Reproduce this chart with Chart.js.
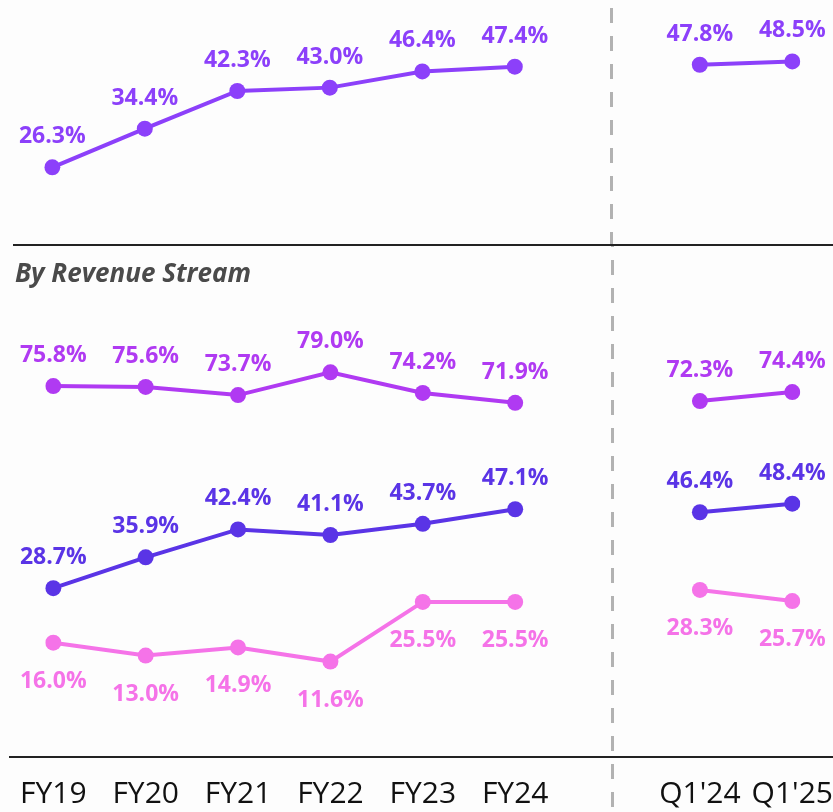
<!DOCTYPE html>
<html>
<head>
<meta charset="utf-8">
<script src="https://cdn.jsdelivr.net/npm/chart.js@4.4.0/dist/chart.umd.min.js"></script>
<style>
    html, body { margin: 0; padding: 0; background: #fdfdfd; overflow: hidden; }
    #wrap { position: relative; width: 833px; height: 812px; overflow: hidden; }
    #topChart { position: absolute; left: 0; top: 0; }
    #streamChart { position: absolute; left: 0; top: 244px; }
</style>
</head>
<body>
<div id="wrap">
    <canvas id="topChart" width="880" height="244"></canvas>
    <canvas id="streamChart" width="880" height="568"></canvas>
</div>
<script>
// periods (slot 6 is the gap between annual and quarterly)
const periods = ['FY19', 'FY20', 'FY21', 'FY22', 'FY23', 'FY24', '', "Q1'24", "Q1'25"];
const separatorAt = 6.05;

// overall margin
const overallMargin = [26.3, 34.4, 42.3, 43.0, 46.4, 47.4, null, 47.8, 48.5];

// by revenue stream
const streamHigh = [75.8, 75.6, 73.7, 79.0, 74.2, 71.9, null, 72.3, 74.4];
const streamMid = [28.7, 35.9, 42.4, 41.1, 43.7, 47.1, null, 46.4, 48.4];
const streamLow = [16.0, 13.0, 14.9, 11.6, 25.5, 25.5, null, 28.3, 25.7];

const FONT = "'Open Sans', 'Noto Sans', sans-serif";

// value labels above / below each point
const valueLabels = {
    id: 'valueLabels',
    afterDatasetsDraw(chart) {
        const ctx = chart.ctx;
        ctx.save();
        ctx.font = 'bold 23px ' + FONT;
        ctx.textAlign = 'center';
        ctx.textBaseline = 'alphabetic';
        chart.data.datasets.forEach((ds, i) => {
            const meta = chart.getDatasetMeta(i);
            ctx.fillStyle = ds.borderColor;
            meta.data.forEach((pt, j) => {
                const v = ds.data[j];
                if (v === null || v === undefined) return;
                ctx.fillText(v.toFixed(1) + '%', pt.x, pt.y + ds.labelShift);
            });
        });
        ctx.restore();
    }
};

function hRule(ctx, x0, x1, y) {
    ctx.beginPath();
    ctx.moveTo(x0, y);
    ctx.lineTo(x1, y);
    ctx.stroke();
}

// dashed separator between annual and quarterly + horizontal rules
const decorations = {
    id: 'decorations',
    beforeDatasetsDraw(chart, args, opts) {
        const ctx = chart.ctx;
        const x = Math.floor(chart.scales.x.getPixelForValue(separatorAt)) + 0.5;
        ctx.save();
        ctx.strokeStyle = '#b2b2b2';
        ctx.lineWidth = 3;
        ctx.setLineDash([15, 13]);
        ctx.lineDashOffset = opts.dashOffset;
        ctx.beginPath();
        ctx.moveTo(x, 0);
        ctx.lineTo(x, chart.height);
        ctx.stroke();
        ctx.setLineDash([]);
        if (opts.rules) {
            ctx.strokeStyle = '#222';
            ctx.lineWidth = 2;
            hRule(ctx, 13, chart.width, chart.chartArea.top + 1);
            hRule(ctx, 9, chart.width, chart.chartArea.bottom + 1);
        }
        if (opts.title) {
            ctx.fillStyle = '#4a4a4a';
            ctx.font = 'italic bold 26px ' + FONT;
            ctx.textAlign = 'left';
            ctx.textBaseline = 'alphabetic';
            ctx.fillText(opts.title, 15, 38);
        }
        ctx.restore();
    }
};

function lineSet(label, data, color, shift) {
    return {
        label: label,
        data: data,
        borderColor: color,
        backgroundColor: color,
        borderWidth: 4,
        pointRadius: 8,
        pointBackgroundColor: color,
        pointBorderWidth: 0,
        tension: 0,
        spanGaps: false,
        labelShift: shift
    };
}

// 1. OVERALL MARGIN
function renderTopChart() {
    const ctx = document.getElementById('topChart').getContext('2d');
    new Chart(ctx, {
        type: 'line',
        data: {
            labels: periods,
            datasets: [lineSet('Overall', overallMargin, '#8c40fa', -24)]
        },
        options: {
            responsive: false,
            animation: false,
            events: [],
            layout: { autoPadding: false, padding: { left: 52.3, right: 87.7, top: 0, bottom: 0 } },
            plugins: {
                legend: { display: false },
                tooltip: { enabled: false },
                decorations: { dashOffset: 20 }
            },
            scales: {
                x: { display: false, offset: false },
                y: { display: false, min: 10.22, max: 61.37 }
            }
        },
        plugins: [decorations, valueLabels]
    });
}

// 2. BY REVENUE STREAM
function renderStreamChart() {
    const ctx = document.getElementById('streamChart').getContext('2d');
    new Chart(ctx, {
        type: 'line',
        data: {
            labels: periods,
            datasets: [
                lineSet('High', streamHigh, '#b03af2', -24),
                lineSet('Mid', streamMid, '#5a34e6', -24),
                lineSet('Low', streamLow, '#f573e8', 45)
            ]
        },
        options: {
            responsive: false,
            animation: false,
            events: [],
            // ticks padding is counted twice by the axis fit, take it back here
            layout: { autoPadding: false, padding: { left: 52.3, right: 87.7, top: 0, bottom: -20 } },
            plugins: {
                legend: { display: false },
                tooltip: { enabled: false },
                decorations: { dashOffset: 12, rules: true, title: 'By Revenue Stream' }
            },
            scales: {
                x: {
                    offset: false,
                    grid: { display: false, drawTicks: false },
                    border: { display: false },
                    ticks: {
                        color: '#111',
                        font: { family: FONT, size: 30 },
                        padding: 20,
                        maxRotation: 0,
                        autoSkip: false
                    }
                },
                y: { display: false, min: -10.4, max: 108.9 }
            }
        },
        plugins: [decorations, valueLabels]
    });
}

renderTopChart();
renderStreamChart();
</script>
</body>
</html>
